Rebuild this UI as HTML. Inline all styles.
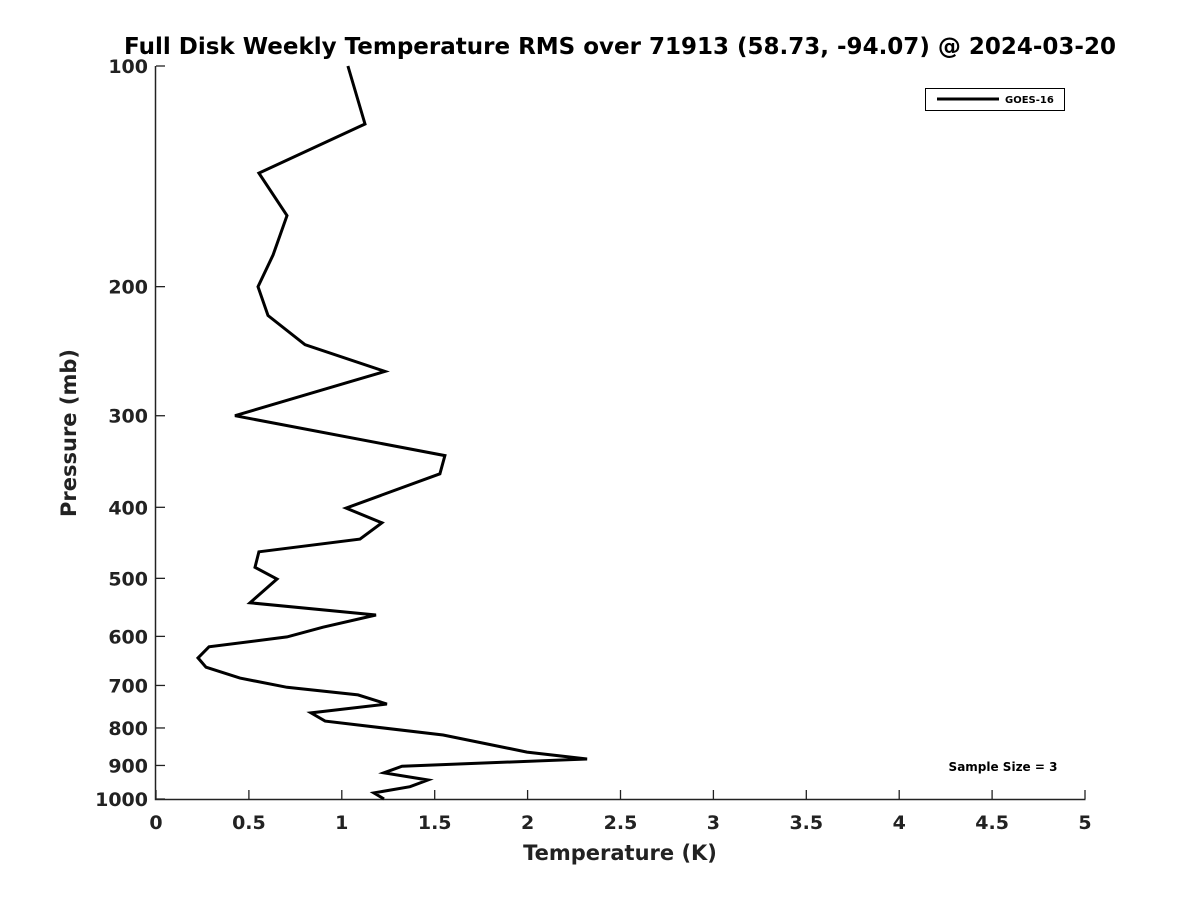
<!DOCTYPE html>
<html><head><meta charset="utf-8"><style>
body{margin:0;background:#fff;font-family:"Liberation Sans","DejaVu Sans",sans-serif}
svg text{font-family:"DejaVu Sans","Liberation Sans",sans-serif}
</style></head><body>
<svg id="chart" width="1200" height="900" viewBox="0 0 1200 900">
<rect width="1200" height="900" fill="#fff"/>
<text x="620" y="54" text-anchor="middle" font-size="23" font-weight="bold" fill="#000">Full Disk Weekly Temperature RMS over 71913 (58.73, -94.07) @ 2024-03-20</text>
<g id="axes"></g>
<g id="series"></g>
<g>
<rect x="925.5" y="88.5" width="139" height="22" fill="#fff" stroke="#000" stroke-width="1"/>
<line x1="937" y1="99" x2="999" y2="99" stroke="#000" stroke-width="3"/>
<text x="1005" y="103" font-size="10" font-weight="bold">GOES-16</text>
</g>
<text x="1003" y="771" text-anchor="middle" font-size="12" font-weight="bold">Sample Size = 3</text>
<text x="620" y="860" text-anchor="middle" font-size="21" font-weight="bold" fill="#222">Temperature (K)</text>
<text transform="translate(76,433) rotate(-90)" text-anchor="middle" font-size="21" font-weight="bold" fill="#222">Pressure (mb)</text>
</svg>
<script>
const xTicks=[0,0.5,1,1.5,2,2.5,3,3.5,4,4.5,5];
const xTickLabels=["0","0.5","1","1.5","2","2.5","3","3.5","4","4.5","5"];
const yTicks=[100,200,300,400,500,600,700,800,900,1000];
const yTickLabels=["100","200","300","400","500","600","700","800","900","1000"];
const pressures=[100,120,140,160,181,200,219,240,261,300,340,360,401,420,442,460,483,501,540,561,583,601,620,642,661,684,704,721,742,763,783,818,839,863,882,902,921,942,962,981,1000];
const rmsGoes16=[1.033,1.125,0.554,0.705,0.63,0.549,0.603,0.802,1.232,0.425,1.555,1.528,1.023,1.216,1.098,0.554,0.533,0.651,0.506,1.184,0.899,0.705,0.285,0.226,0.269,0.452,0.705,1.087,1.243,0.834,0.91,1.545,1.76,1.997,2.32,1.324,1.227,1.464,1.367,1.173,1.227];
const L=156,R=1085,T=66,B=799;
const xs=v=>L+(v-0)/(5-0)*(R-L);
const ys=p=>T+(Math.log10(p)-2)*(B-T);
const NS="http://www.w3.org/2000/svg";
function mk(tag,attrs,parent){const e=document.createElementNS(NS,tag);for(const k in attrs)e.setAttribute(k,attrs[k]);parent.appendChild(e);return e;}
const ax=document.getElementById('axes');
let a=mk('path',{d:`M${L-0.5},${T} V${B+0.5} H${R+0.5}`,fill:'none',stroke:'#222','stroke-width':1.5},ax);


xTicks.forEach((v,i)=>{const x=xs(v);
 const t=mk('line',{x1:x,x2:x,y1:B,y2:B-9,stroke:'#222','stroke-width':1.3},ax);
 
 
 const l=mk('text',{x:x,y:B+30,'text-anchor':'middle','font-size':19,'font-weight':'bold',fill:'#222'},ax);l.textContent=xTickLabels[i];
 
 });
yTicks.forEach((p,i)=>{const y=ys(p);
 const t=mk('line',{x1:L,x2:L+9,y1:y,y2:y,stroke:'#222','stroke-width':1.3},ax);
 
 
 const l=mk('text',{x:L-8,y:y+7,'text-anchor':'end','font-size':19,'font-weight':'bold',fill:'#222'},ax);l.textContent=yTickLabels[i];
 
 });
const sg=document.getElementById('series');
const d=pressures.map((p,i)=>(i?'L':'M')+xs(rmsGoes16[i]).toFixed(1)+','+ys(p).toFixed(1)).join(' ');
const ln=mk('path',{d:d,fill:'none',stroke:'#000','stroke-width':3,'stroke-linejoin':'miter'},sg);


</script>
</body></html>
